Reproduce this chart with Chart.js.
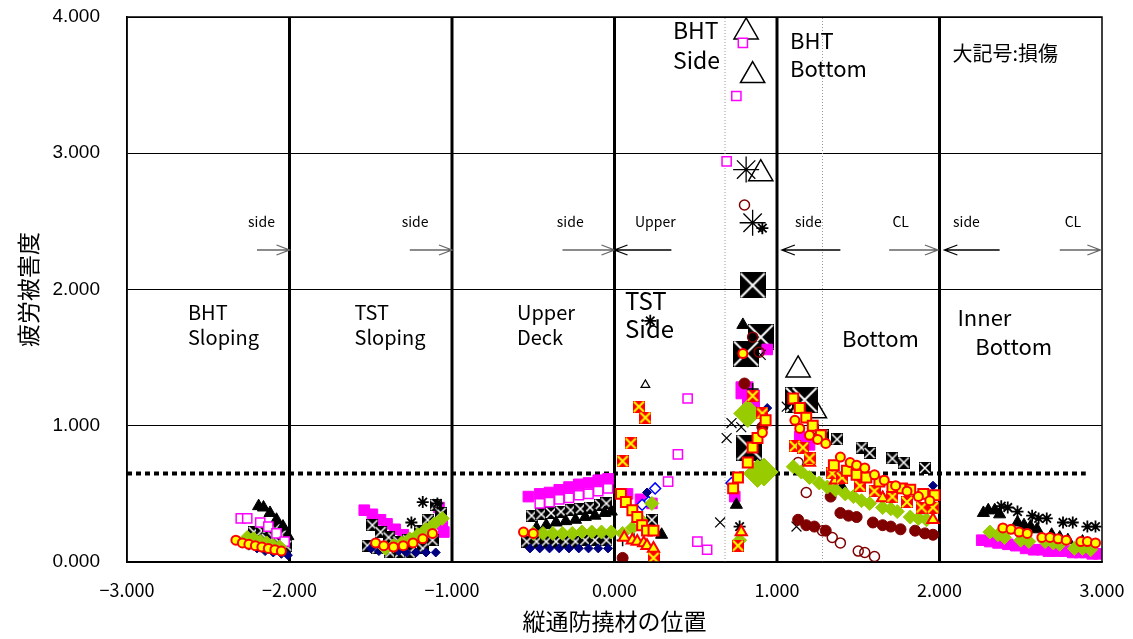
<!DOCTYPE html>
<html>
<head>
<meta charset="utf-8">
<script src="https://cdn.jsdelivr.net/npm/chart.js@4.4.1/dist/chart.umd.min.js"></script>
<style>
  html, body { margin: 0; padding: 0; background: #fff; }
</style>
</head>
<body>
<canvas id="fatigueChart" width="1133" height="639"></canvas>
<script>
// --- data (x = 縦通防撓材の位置, y = 疲労被害度) ---
const magOpenX = [-2.30,-2.26,-2.18,-2.13,-2.08,-2.03, -0.46,-0.40,-0.34,-0.28,-0.22,-0.16,-0.10,-0.04, 0.45,0.39,0.33,0.51,0.57, 0.79,0.75,0.69];
const magOpenY = [0.32,0.32,0.29,0.26,0.21,0.15, 0.43,0.44,0.46,0.47,0.49,0.50,0.52,0.54, 1.20,0.79,0.59,0.15,0.09, 3.81,3.42,2.94];

const magFillX = [-1.54,-1.49,-1.44,-1.40,-1.35,-1.30,-1.26,-1.08,-1.06,-1.05, -0.53,-0.46,-0.40,-0.34,-0.28,-0.22,-0.16,-0.10,-0.04, 0.08,0.16,0.23, 0.74,0.94, 1.14,1.20,
                  2.26,2.31,2.36,2.42,2.47,2.53,2.58,2.63,2.67,2.73,2.78,2.82,2.86,2.90,2.94,2.98];
const magFillY = [0.38,0.35,0.31,0.28,0.24,0.20,0.16,0.40,0.28,0.22, 0.48,0.50,0.51,0.53,0.55,0.57,0.58,0.60,0.61, 0.50,0.46,0.43, 0.48,1.56, 0.92,0.86,
                  0.16,0.15,0.14,0.13,0.12,0.10,0.09,0.09,0.08,0.08,0.08,0.07,0.07,0.07,0.06,0.06];

const triX = [-2.19,-2.16,-2.12,-2.08,-2.04,-2.01, -0.48,-0.42,-0.36,-0.30,-0.24,-0.18,-0.12,-0.06,-0.02, 0.29,0.75,0.79, 1.40,1.65,1.90,
              2.27,2.30,2.34,2.37,2.48,2.52,2.56,2.60,2.69,2.74,2.79,2.88,2.93];
const triY = [0.41,0.40,0.36,0.31,0.26,0.19, 0.25,0.27,0.29,0.30,0.31,0.33,0.34,0.36,0.37, 0.20,0.42,1.74, 0.55,0.47,0.38,
              0.36,0.38,0.38,0.35,0.29,0.27,0.26,0.24,0.20,0.18,0.16,0.15,0.12];

const boxX = [-2.22,-2.17,-2.13,-2.09,-2.05,-2.19,-2.14,-2.10,-2.06,-2.02,
              -1.49,-1.44,-1.39,-1.33,-1.27,-1.20,-1.15,-1.10,-1.07, -1.52,-1.46,-1.38,-1.32,-1.26,-1.18,-1.12,
              -0.51,-0.45,-0.39,-0.33,-0.27,-0.21,-0.15,-0.09,-0.05, -0.54,-0.48,-0.42,-0.36,-0.30,-0.24,-0.18,-0.12,-0.05,
              0.23, 1.22,1.28,1.37,1.52,1.57,1.71,1.78,1.91];
const boxY = [0.22,0.23,0.25,0.24,0.20,0.15,0.17,0.18,0.14,0.12,
              0.27,0.22,0.18,0.15,0.16,0.23,0.31,0.42,0.36, 0.12,0.10,0.07,0.07,0.07,0.10,0.16,
              0.34,0.35,0.36,0.37,0.38,0.39,0.40,0.42,0.43, 0.15,0.15,0.15,0.15,0.15,0.15,0.16,0.16,0.16,
              0.31, 0.97,0.93,0.90,0.84,0.80,0.76,0.73,0.69];

const starX = [-1.18,-1.09,-1.25, 0.22, 0.91,0.77, 2.38,2.42,2.48,2.57,2.61,2.66,2.76,2.82,2.91,2.96];
const starY = [0.44,0.43,0.29, 1.77, 2.45,0.26, 0.41,0.40,0.37,0.34,0.32,0.32,0.29,0.29,0.26,0.26];

const xMarkX = [0.65,0.69,0.72,0.78, 1.06,1.12, 0.90];
const xMarkY = [0.29,0.91,1.02,0.99, 1.14,0.26, 1.52];

const navyX = [-2.30,-2.25,-2.20,-2.15,-2.10,-2.05,-2.01, -1.50,-1.45,-1.33,-1.28,-1.22,-1.16,-1.10,
               -0.52,-0.46,-0.40,-0.34,-0.28,-0.22,-0.16,-0.10,-0.04, 0.20, 0.94, 1.96];
const navyY = [0.15,0.12,0.10,0.08,0.07,0.06,0.05, 0.10,0.08,0.08,0.07,0.07,0.07,0.07,
               0.10,0.10,0.10,0.10,0.10,0.10,0.10,0.10,0.10, 0.51, 1.13, 0.56];

const blueOpenX = [0.25,0.21,0.17,0.72];
const blueOpenY = [0.54,0.44,0.42,0.58];

const greenX = [-2.26,-2.22,-2.18,-2.14,-2.10,-2.06, -1.41,-1.36,-1.31,-1.26,-1.21,-1.16,-1.11,-1.06,
                -0.50,-0.44,-0.38,-0.32,-0.26,-0.20,-0.14,-0.08,-0.02, 0.05,0.11,0.16,0.23, 0.77,
                1.10,1.15,1.20,1.26,1.31,1.36,1.42,1.47,1.52,1.57,1.65,1.70,1.74,1.82,1.87,1.92,
                2.31,2.36,2.40,2.50,2.55,2.65,2.70,2.74,2.83,2.88,2.93];
const greenY = [0.18,0.17,0.15,0.14,0.12,0.11, 0.10,0.12,0.14,0.17,0.20,0.24,0.28,0.32,
                0.21,0.21,0.21,0.21,0.21,0.22,0.22,0.22,0.22, 0.21,0.25,0.31,0.43, 0.16,
                0.70,0.66,0.62,0.58,0.55,0.53,0.50,0.48,0.45,0.43,0.40,0.39,0.37,0.33,0.32,0.31,
                0.22,0.20,0.18,0.16,0.15,0.15,0.14,0.13,0.10,0.10,0.09];

const ySqX = [0.04,0.07,0.11,0.14,0.17,0.20,0.24, 0.73,0.76,0.82,0.85,0.88,0.93,
              1.10,1.14,1.18,1.22,1.27,1.35,1.43,1.49,1.55,1.63,1.71,1.77,1.82,1.90,1.97];
const ySqY = [0.50,0.44,0.38,0.33,0.27,0.23,0.23, 0.54,0.62,0.73,0.84,0.91,1.04,
              1.20,1.13,1.06,1.00,0.93,0.71,0.67,0.64,0.62,0.59,0.55,0.54,0.53,0.50,0.49];

const ringX = [-2.33,-2.29,-2.25,-2.21,-2.17,-2.13,-2.09,-2.05, -1.47,-1.42,-1.36,-1.30,-1.24,-1.18,-1.12,
               -0.56,-0.50, 0.79,0.91, 1.11,1.14,1.20,1.25,1.30,1.39,1.45,1.49,1.54,1.60,1.66,1.73,1.80,1.87,1.94,
               2.39,2.44,2.49,2.54,2.63,2.68,2.73,2.78,2.87,2.91,2.96];
const ringY = [0.16,0.14,0.13,0.12,0.11,0.10,0.09,0.08, 0.14,0.12,0.11,0.12,0.14,0.17,0.21,
               0.22,0.21, 1.53,0.95, 1.04,0.98,0.93,0.90,0.87,0.77,0.73,0.71,0.69,0.64,0.60,0.56,0.52,0.48,0.45,
               0.25,0.24,0.22,0.21,0.18,0.18,0.17,0.16,0.15,0.15,0.14];

const redXX = [0.15,0.19,0.10,0.05,0.24, 0.85,0.91,0.76, 1.11,1.16,1.20,1.34,1.40,1.51,1.60,1.71,1.80,1.89,1.96];
const redXY = [1.14,1.06,0.87,0.74,0.03, 1.22,1.09,0.12, 0.85,0.84,0.76,0.65,0.62,0.56,0.52,0.48,0.44,0.40,0.40];

const redTriX = [0.06,0.11,0.14,0.18,0.20,0.24, 0.78, 1.20,1.36,1.65,1.96];
const redTriY = [0.18,0.16,0.15,0.14,0.12,0.10, 0.22, 0.73,0.60,0.47,0.31];

const darkRedX = [1.13,1.18,1.23,1.30,1.33,1.39,1.44,1.49,1.59,1.65,1.70,1.76,1.85,1.91,1.96, 0.05,0.80,0.91];
const darkRedY = [0.31,0.27,0.26,0.23,0.48,0.36,0.34,0.33,0.29,0.27,0.26,0.24,0.23,0.21,0.20, 0.03,1.31,0.99];

const darkOpenX = [1.18,1.28,1.34,1.39,1.50,1.54,1.60, 0.80,0.85,0.89,1.13];
const darkOpenY = [0.51,0.23,0.18,0.14,0.08,0.07,0.04, 2.62,1.65,1.54,0.73];

const plusX = [0.05,0.12,0.85];
const plusY = [0.16,0.17,1.27];

const openTriX = [0.19];
const openTriY = [1.30];

// 大記号:損傷
const bigTriX = [0.81,0.85,0.90,1.13,1.23];
const bigTriY = [3.89,3.57,2.85,1.41,1.11];
const bigBoxX = [0.85,0.90,0.81,0.83,1.13,1.17];
const bigBoxY = [2.03,1.65,1.53,0.84,1.19,1.19];
const bigStarX = [0.81,0.85];
const bigStarY = [2.88,2.49];
const bigGreenX = [0.82,0.88,0.92];
const bigGreenY = [1.09,0.65,0.66];
const bigMagX = [0.80,0.84];
const bigMagY = [1.26,1.20];

// section borders and reference lines
const sectionX = [-2, -1, 0, 1, 2];
const subLineX = [0.68, 1.28];
const limitY = 0.65;
const limitRange = [-3, 2.9];

const xTicks = [-3, -2, -1, 0, 1, 2, 3];

const pts = (xs, ys) => xs.map((x, i) => ({ x: x, y: ys[i] }));

const makeBox = (size, bg, fg, lw) => {
  const c = document.createElement('canvas');
  c.width = size; c.height = size;
  const g = c.getContext('2d');
  g.fillStyle = bg;
  g.fillRect(0, 0, size, size);
  g.strokeStyle = fg;
  g.lineWidth = lw;
  g.beginPath();
  g.moveTo(1, 1); g.lineTo(size - 1, size - 1);
  g.moveTo(size - 1, 1); g.lineTo(1, size - 1);
  g.stroke();
  return c;
};
const boxSmall = makeBox(12, '#000', '#fff', 1.5);
const boxBig = makeBox(26, '#000', '#fff', 2);
const redBox = makeBox(12, '#FF0000', '#FFFF00', 2);

const marks = (xs, ys, style) => Object.assign({ data: pts(xs, ys), pointBorderWidth: 1 }, style);

const vline = (x, w, color, dash) => ({
  data: [{ x: x, y: 0 }, { x: x, y: 4 }],
  showLine: true, pointRadius: 0, borderColor: color, borderWidth: w, borderDash: dash || [],
});

const datasets = [
  marks(ringX, ringY, { pointStyle: 'circle', pointRadius: 4.5, backgroundColor: '#FFFF00', borderColor: '#FF0000', pointBorderWidth: 2 }),
  marks(ySqX, ySqY, { pointStyle: 'rect', pointRadius: 7, backgroundColor: '#FFFF00', borderColor: '#FF0000', pointBorderWidth: 2 }),
  marks(redXX, redXY, { pointStyle: redBox }),
  marks(redTriX, redTriY, { pointStyle: 'triangle', pointRadius: 6.5, backgroundColor: '#FFFF00', borderColor: '#FF0000', pointBorderWidth: 2 }),
  marks(bigGreenX, bigGreenY, { pointStyle: 'rectRot', pointRadius: 14, backgroundColor: '#99CC00', borderColor: '#99CC00' }),
  marks(greenX, greenY, { pointStyle: 'rectRot', pointRadius: 7, backgroundColor: '#99CC00', borderColor: '#99CC00' }),
  marks(navyX, navyY, { pointStyle: 'rectRot', pointRadius: 4.5, backgroundColor: '#000080', borderColor: '#000080' }),
  marks(blueOpenX, blueOpenY, { pointStyle: 'rectRot', pointRadius: 5.5, backgroundColor: '#fff', borderColor: '#0000FF', pointBorderWidth: 1.5 }),
  marks(magOpenX, magOpenY, { pointStyle: 'rect', pointRadius: 6.5, backgroundColor: '#fff', borderColor: '#FF00FF', pointBorderWidth: 1.5 }),
  marks(darkRedX, darkRedY, { pointStyle: 'circle', pointRadius: 5.5, backgroundColor: '#800000', borderColor: '#800000' }),
  marks(darkOpenX, darkOpenY, { pointStyle: 'circle', pointRadius: 5, backgroundColor: 'rgba(0,0,0,0)', borderColor: '#800000', pointBorderWidth: 1.5 }),
  marks(triX, triY, { pointStyle: 'triangle', pointRadius: 7, backgroundColor: '#000', borderColor: '#000' }),
  marks(starX, starY, { pointStyle: 'star', pointRadius: 6, backgroundColor: '#000', borderColor: '#000', pointBorderWidth: 1.8 }),
  marks(xMarkX, xMarkY, { pointStyle: 'crossRot', pointRadius: 7, borderColor: '#000', pointBorderWidth: 1.2 }),
  marks(plusX, plusY, { pointStyle: 'cross', pointRadius: 6, borderColor: '#000', pointBorderWidth: 1.5 }),
  marks(boxX, boxY, { pointStyle: boxSmall }),
  marks(magFillX, magFillY, { pointStyle: 'rect', pointRadius: 7.5, backgroundColor: '#FF00FF', borderColor: '#FF00FF' }),
  marks(bigMagX, bigMagY, { pointStyle: 'rect', pointRadius: 12, backgroundColor: '#FF00FF', borderColor: '#FF00FF' }),
  marks(bigBoxX, bigBoxY, { pointStyle: boxBig }),
  marks(bigStarX, bigStarY, { pointStyle: 'star', pointRadius: 13, borderColor: '#000', pointBorderWidth: 1.3 }),
  marks(bigTriX, bigTriY, { pointStyle: 'triangle', pointRadius: 14, backgroundColor: 'rgba(0,0,0,0)', borderColor: '#000', pointBorderWidth: 1.5 }),
  marks(openTriX, openTriY, { pointStyle: 'triangle', pointRadius: 5, backgroundColor: '#fff', borderColor: '#000', pointBorderWidth: 1.2 }),
  {
    data: limitRange.map(x => ({ x: x, y: limitY })),
    showLine: true, pointRadius: 0, borderColor: '#000', borderWidth: 4, borderDash: [5, 4],
  },
  ...sectionX.map(x => vline(x, 3, '#000')),
  ...subLineX.map(x => vline(x, 1, '#999', [1, 2])),
];

// section names, notes and arrows (data coordinates)
const labels = [
  { t: 'BHT', x: -2.625, y: 1.83, s: 20 }, { t: 'Sloping', x: -2.625, y: 1.645, s: 20 },
  { t: 'TST', x: -1.60, y: 1.83, s: 20 }, { t: 'Sloping', x: -1.60, y: 1.645, s: 20 },
  { t: 'Upper', x: -0.60, y: 1.83, s: 20 }, { t: 'Deck', x: -0.60, y: 1.645, s: 20 },
  { t: 'TST', x: 0.065, y: 1.92, s: 24 }, { t: 'Side', x: 0.065, y: 1.71, s: 24 },
  { t: 'BHT', x: 0.36, y: 3.90, s: 23 }, { t: 'Side', x: 0.36, y: 3.68, s: 23 },
  { t: 'BHT', x: 1.08, y: 3.83, s: 22 }, { t: 'Bottom', x: 1.08, y: 3.62, s: 22 },
  { t: 'Bottom', x: 1.40, y: 1.64, s: 22 },
  { t: 'Inner', x: 2.11, y: 1.79, s: 22 }, { t: 'Bottom', x: 2.22, y: 1.58, s: 22 },
  { t: '大記号:損傷', x: 2.08, y: 3.73, s: 20 },
  { t: 'side', x: -2.255, y: 2.495, s: 14 }, { t: 'side', x: -1.31, y: 2.495, s: 14 },
  { t: 'side', x: -0.355, y: 2.495, s: 14 }, { t: 'Upper', x: 0.126, y: 2.495, s: 14 },
  { t: 'side', x: 1.11, y: 2.495, s: 14 }, { t: 'CL', x: 1.71, y: 2.495, s: 14 },
  { t: 'side', x: 2.083, y: 2.495, s: 14 }, { t: 'CL', x: 2.77, y: 2.495, s: 14 },
];
const arrows = [
  { from: -2.2, to: -2.0, c: '#666' }, { from: -1.26, to: -1.0, c: '#666' },
  { from: -0.32, to: 0, c: '#666' }, { from: 0.35, to: 0, c: '#000' },
  { from: 1.39, to: 1.03, c: '#000' }, { from: 1.69, to: 1.99, c: '#666' },
  { from: 2.37, to: 2.03, c: '#000' }, { from: 2.74, to: 2.99, c: '#666' },
];
const arrowY = 2.29;

const overlay = {
  id: 'overlay',
  afterDatasetsDraw(chart) {
    const { ctx, chartArea: a, scales: { x, y } } = chart;
    ctx.save();
    ctx.strokeStyle = '#000';
    ctx.lineWidth = 1.5;
    ctx.strokeRect(a.left, a.top, a.right - a.left, a.bottom - a.top);
    arrows.forEach(ar => {
      const x0 = x.getPixelForValue(ar.from), x1 = x.getPixelForValue(ar.to), py = y.getPixelForValue(arrowY);
      const d = x1 > x0 ? -1 : 1;
      ctx.strokeStyle = ar.c;
      ctx.lineWidth = 1.3;
      ctx.beginPath();
      ctx.moveTo(x0, py); ctx.lineTo(x1, py);
      ctx.moveTo(x1 + d * 13, py - 5); ctx.lineTo(x1, py); ctx.lineTo(x1 + d * 13, py + 5);
      ctx.stroke();
    });
    ctx.fillStyle = '#000';
    ctx.textBaseline = 'middle';
    ctx.textAlign = 'left';
    labels.forEach(l => {
      ctx.font = l.s + 'px "Noto Sans CJK JP", sans-serif';
      ctx.fillText(l.t, x.getPixelForValue(l.x), y.getPixelForValue(l.y));
    });
    ctx.restore();
  },
};

const noPad = s => { s.paddingTop = 0; s.paddingBottom = 0; s.paddingLeft = 0; s.paddingRight = 0; };

new Chart(document.getElementById('fatigueChart'), {
  type: 'scatter',
  data: { datasets: datasets },
  options: {
    responsive: false,
    animation: false,
    layout: { padding: { top: 17, right: 31, left: 0, bottom: 0 } },
    plugins: { legend: { display: false }, tooltip: { enabled: false } },
    scales: {
      x: {
        type: 'linear', min: -3, max: 3,
        afterBuildTicks: s => { s.ticks = xTicks.map(v => ({ value: v })); },
        afterFit: s => { s.height = 77; noPad(s); },
        grid: { display: false, drawTicks: false },
        border: { color: '#000', width: 1.5 },
        ticks: {
          padding: 17, color: '#000',
          font: { family: '"Noto Sans CJK JP", sans-serif', size: 18 },
          callback: v => (v < 0 ? '\u2212' : '') + Math.abs(v).toFixed(3),
        },
        title: {
          display: true, text: '縦通防撓材の位置', color: '#000', padding: { top: 4 },
          font: { family: '"Noto Sans CJK JP", sans-serif', size: 23 },
        },
      },
      y: {
        min: 0, max: 4,
        afterFit: s => { s.width = 127; noPad(s); },
        grid: { color: '#000', lineWidth: 1, drawTicks: false },
        border: { color: '#000', width: 1.5 },
        ticks: {
          stepSize: 1, padding: 27, color: '#000',
          font: { family: '"Liberation Sans", Arial, sans-serif', size: 19, weight: '500' },
          callback: v => v.toFixed(3),
        },
        title: {
          display: true, text: '疲労被害度', color: '#000', padding: { top: 14, bottom: 2 },
          font: { family: '"Noto Sans CJK JP", sans-serif', size: 23 },
        },
      },
    },
  },
  plugins: [overlay],
});
</script>
</body>
</html>
